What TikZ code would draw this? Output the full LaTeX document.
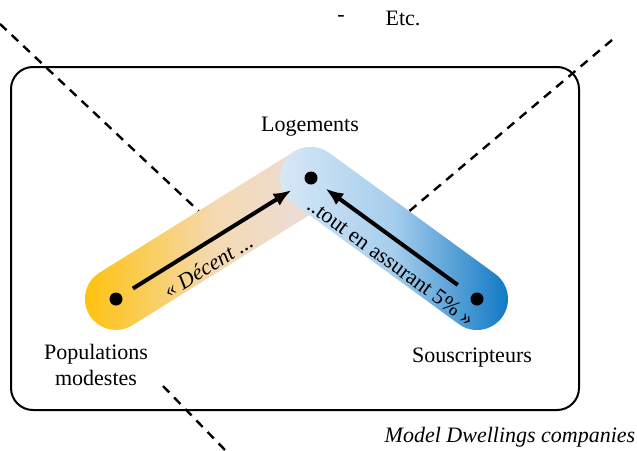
\documentclass[tikz,border=0pt]{standalone}
\usepackage{fontspec}
\setmainfont{Liberation Serif}
\usetikzlibrary{arrows.meta,calc}
\definecolor{gold}{RGB}{255,192,0}
\definecolor{peach}{RGB}{245,217,176}
\definecolor{lilac}{RGB}{230,222,236}
\definecolor{paleblue}{RGB}{221,235,247}
\definecolor{midblue}{RGB}{165,205,236}
\definecolor{deepblue}{RGB}{0,112,192}
\tikzset{%
  word/.style   = {font=\fontsize{11}{13}\selectfont, align=center, inner sep=1pt},%
  slogan/.style = {word, font=\fontsize{11}{13}\selectfont\itshape},%
  band/.style   = {rectangle, rounded corners=15.5pt, inner sep=0pt,%
                   outer sep=0pt, minimum height=31pt},%
  dot/.style    = {circle, fill=black, inner sep=0pt, minimum size=6.5pt},%
  link/.style   = {line width=2pt, -{Latex[length=9pt,width=7pt]}},%
  guide/.style  = {line width=1.2pt, dash pattern=on 4.5pt off 3.5pt}%
}
\begin{document}
\begin{tikzpicture}[x=0.5pt,y=-0.5pt]
	\useasboundingbox (0,0) rectangle (637,450);
	% dashed guides
	\draw[guide] (0,24) -- (205,217);
	\draw[guide] (612,40) -- (400,219);
	\draw[guide] (163,386) -- (225,450);
	% frame
	\draw[line width=1pt, rounded corners=11pt] (11,67) rectangle (579,410);
	% bands
	\node[band, minimum width=145.3pt, rotate=31.9,%
		left color=gold, right color=lilac, middle color=peach] (lband) at (213,238.5) {};
	\node[band, minimum width=133.7pt, rotate=-36.1,%
		left color=paleblue, right color=deepblue, middle color=midblue] (rband) at (394,238.5) {};
	% dots and arrows
	\node[dot] (pop) at (116,299) {};
	\node[dot] (log) at (311,178) {};
	\node[dot] (sou) at (477,299) {};
	\draw[link, shorten <=6.5pt, shorten >=8pt] (pop) -- (log);
	\draw[link, shorten <=8.5pt, shorten >=5.5pt] (sou) -- (log);
	\node[slogan, rotate=31.9] (decent) at (208,266) {« Décent ...};
	\node[word, rotate=-36.1] (tout) at (391,262) {..tout en assurant 5\% »};
	% labels
	\node[word] (logements) at (310,127) {Logements};
	\node[word] (populations) at (96,365) {Populations\\modestes};
	\node[word] (souscripteurs) at (472,358) {Souscripteurs};
	\node[slogan] (mdc) at (510,437) {Model Dwellings companies};
	\node[word] (dash) at (341,18) {-};
	\node[word] (etc) at (403,18) {Etc.};
\end{tikzpicture}
\end{document}
